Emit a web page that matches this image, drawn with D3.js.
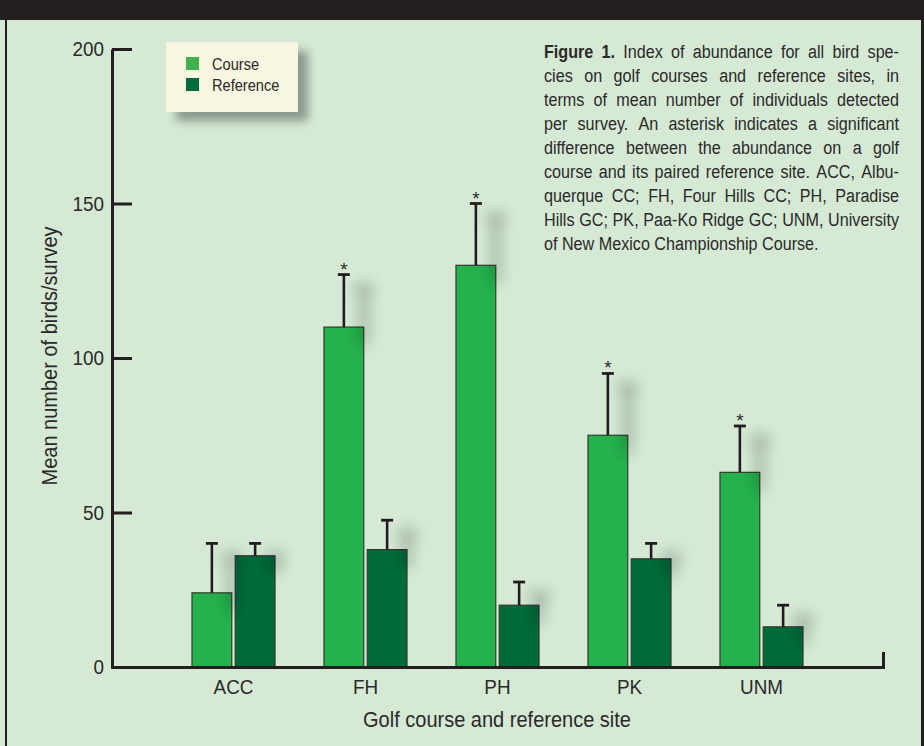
<!DOCTYPE html>
<html>
<head>
<meta charset="utf-8">
<script src="https://cdn.jsdelivr.net/npm/d3@7"></script>
<style>
  html, body { margin: 0; padding: 0; background: #d5e9d5; }
  svg { display: block; }
  text { font-family: "Liberation Sans", Arial, sans-serif; fill: #2b2a29; }
</style>
</head>
<body>
<script>
// Bird abundance: mean number of birds per survey at golf courses and paired reference sites
const sites = ["ACC", "FH", "PH", "PK", "UNM"];
const series = ["Course", "Reference"];
const courseMean = [24, 110, 130, 75, 63];
const courseErr = [16, 17, 20, 20, 15];
const referenceMean = [36, 38, 20, 35, 13];
const referenceErr = [4, 9.5, 7.5, 5, 7];
const significant = [false, true, true, true, true];
const yTicks = [0, 50, 100, 150, 200];

const captionLines = [
  [["Figure 1.", true], ["Index of abundance for all bird spe-", false]],
  [["cies on golf courses and reference sites, in", false]],
  [["terms of mean number of individuals detected", false]],
  [["per survey. An asterisk indicates a significant", false]],
  [["difference between the abundance on a golf", false]],
  [["course and its paired reference site. ACC, Albu-", false]],
  [["querque CC; FH, Four Hills CC; PH, Paradise", false]],
  [["Hills GC; PK, Paa-Ko Ridge GC; UNM, University", false]],
  [["of New Mexico Championship Course.", false]]
];

const W = 924, H = 746;
const colors = { Course: "#25b14c", Reference: "#006a39" };

const svg = d3.select("body").append("svg").attr("width", W).attr("height", H);

// condensed lettering: Liberation Sans squeezed horizontally
function label(parent, x, y, str, size, sx, anchor) {
  return parent.append("text")
    .attr("transform", `translate(${x},${y}) scale(${sx},1)`)
    .attr("font-size", size)
    .attr("text-anchor", anchor || "start")
    .text(str);
}

const defs = svg.append("defs");
const shadow = defs.append("filter").attr("id", "errShadow")
  .attr("x", "-100%").attr("y", "-50%").attr("width", "400%").attr("height", "200%");
shadow.append("feMorphology").attr("in", "SourceAlpha").attr("operator", "dilate").attr("radius", 4).attr("result", "fat");
shadow.append("feOffset").attr("in", "fat").attr("dx", 20).attr("dy", 14).attr("result", "off");
shadow.append("feGaussianBlur").attr("in", "off").attr("stdDeviation", 7).attr("result", "blur");
shadow.append("feComponentTransfer").attr("in", "blur").attr("result", "soft")
  .append("feFuncA").attr("type", "linear").attr("slope", 0.22);
const sm = shadow.append("feMerge");
sm.append("feMergeNode").attr("in", "soft");
sm.append("feMergeNode").attr("in", "SourceGraphic");

const boxShadow = defs.append("filter").attr("id", "boxShadow")
  .attr("x", "-20%").attr("y", "-20%").attr("width", "150%").attr("height", "160%");
boxShadow.append("feGaussianBlur").attr("in", "SourceAlpha").attr("stdDeviation", 5);
boxShadow.append("feOffset").attr("dx", 10).attr("dy", 9).attr("result", "ob");
boxShadow.append("feComponentTransfer").attr("in", "ob").attr("result", "sb")
  .append("feFuncA").attr("type", "linear").attr("slope", 0.35);
const bm = boxShadow.append("feMerge");
bm.append("feMergeNode").attr("in", "sb");
bm.append("feMergeNode").attr("in", "SourceGraphic");

// frame
svg.append("rect").attr("x", 0).attr("y", 0).attr("width", W).attr("height", H).attr("fill", "#d5e9d5");
svg.append("rect").attr("x", 0).attr("y", 0).attr("width", W).attr("height", 20).attr("fill", "#231f20");
svg.append("rect").attr("x", 5).attr("y", 20).attr("width", 2).attr("height", H - 20).attr("fill", "#231f20");
svg.append("rect").attr("x", 921).attr("y", 20).attr("width", 3).attr("height", H - 20).attr("fill", "#231f20");

// scales
const x = d3.scaleBand().domain(sites).range([112, 883]).paddingInner(0.371).paddingOuter(0.606);
const xs = d3.scaleBand().domain(series).range([0, x.bandwidth()]).paddingInner(0.08);
const y = d3.scaleLinear().domain([0, 200]).range([667, 49]);

const rows = sites.map((s, i) => ({
  site: s,
  sig: significant[i],
  vals: [
    { key: "Course", mean: courseMean[i], err: courseErr[i] },
    { key: "Reference", mean: referenceMean[i], err: referenceErr[i] }
  ]
}));

// bars
const groups = svg.append("g").selectAll("g").data(rows).join("g")
  .attr("transform", d => `translate(${x(d.site)},0)`);
groups.selectAll("rect").data(d => d.vals).join("rect")
  .attr("x", d => xs(d.key))
  .attr("y", d => y(d.mean))
  .attr("width", xs.bandwidth())
  .attr("height", d => y(0) - y(d.mean))
  .attr("fill", d => colors[d.key])
  .attr("stroke", "#2f3b30")
  .attr("stroke-width", 1.2);

// error bars (upper whisker only)
const eg = svg.append("g").attr("filter", "url(#errShadow)");
rows.forEach(r => {
  r.vals.forEach(v => {
    const cx = x(r.site) + xs(v.key) + xs.bandwidth() / 2;
    eg.append("line").attr("x1", cx).attr("x2", cx)
      .attr("y1", y(v.mean)).attr("y2", y(v.mean + v.err))
      .attr("stroke", "#231f20").attr("stroke-width", 2.6);
    eg.append("line").attr("x1", cx - 6).attr("x2", cx + 6)
      .attr("y1", y(v.mean + v.err)).attr("y2", y(v.mean + v.err))
      .attr("stroke", "#231f20").attr("stroke-width", 2.8);
  });
});

// significance asterisks above course bars
svg.append("g").selectAll("text").data(rows.filter(r => r.sig)).join("text")
  .attr("x", r => x(r.site) + xs("Course") + xs.bandwidth() / 2)
  .attr("y", r => y(r.vals[0].mean + r.vals[0].err) + 1)
  .attr("text-anchor", "middle")
  .attr("font-size", 19)
  .text("*");

// axes
const tickScale = 0.9;
const yAxis = svg.append("g").attr("transform", "translate(112,0)")
  .call(d3.axisLeft(y).tickValues(yTicks).tickSize(-20).tickSizeOuter(0).tickPadding(9));
const xAxis = svg.append("g").attr("transform", "translate(0,667)")
  .call(d3.axisBottom(x).tickSize(0).tickSizeOuter(-15).tickPadding(12));
[yAxis, xAxis].forEach(a => {
  a.select(".domain").attr("stroke", "#231f20").attr("stroke-width", 3).attr("fill", "none");
  a.selectAll(".tick line").attr("stroke", "#231f20").attr("stroke-width", 3);
  a.selectAll(".tick text").attr("fill", "#2b2a29").attr("font-size", 21)
    .attr("font-family", "'Liberation Sans', Arial, sans-serif")
    .attr("transform", `scale(${tickScale},1)`);
});

// axis titles
svg.append("text")
  .attr("transform", "translate(57,356) rotate(-90) scale(0.91,1)")
  .attr("text-anchor", "middle").attr("font-size", 22)
  .text("Mean number of birds/survey");
label(svg, 497, 727, "Golf course and reference site", 22, 0.91, "middle");

// legend
const lg = svg.append("g");
lg.append("rect").attr("x", 166).attr("y", 42).attr("width", 132).attr("height", 70)
  .attr("fill", "#f8f6e0").attr("filter", "url(#boxShadow)");
series.forEach((s, i) => {
  lg.append("rect").attr("x", 186).attr("y", 57 + i * 21).attr("width", 13).attr("height", 13)
    .attr("fill", s === "Course" ? "#3fb04a" : "#006b3a");
  label(lg, 212, 69.5 + i * 21, s, 17, 0.86);
});

// caption, justified
const capX0 = 544, capX1 = 899, capY0 = 58, capLH = 24, capFS = 19, capSX = 0.85;
captionLines.forEach((parts, li) => {
  const words = [];
  parts.forEach(([txt, bold]) => txt.split(" ").forEach(w => words.push({ w, bold })));
  const t = svg.append("text")
    .attr("transform", `translate(${capX0},${capY0 + li * capLH}) scale(${capSX},1)`)
    .attr("font-size", capFS);
  const spans = words.map(o => t.append("tspan").attr("font-weight", o.bold ? "bold" : null).text(o.w));
  const widths = spans.map(s => s.node().getComputedTextLength());
  const total = d3.sum(widths);
  const last = li === captionLines.length - 1;
  const avail = (capX1 - capX0) / capSX;
  const gap = last ? capFS * 0.278 : (avail - total) / (words.length - 1);
  let cx = 0;
  spans.forEach((s, i) => { s.attr("x", cx); cx += widths[i] + gap; });
});
</script>
</body>
</html>
